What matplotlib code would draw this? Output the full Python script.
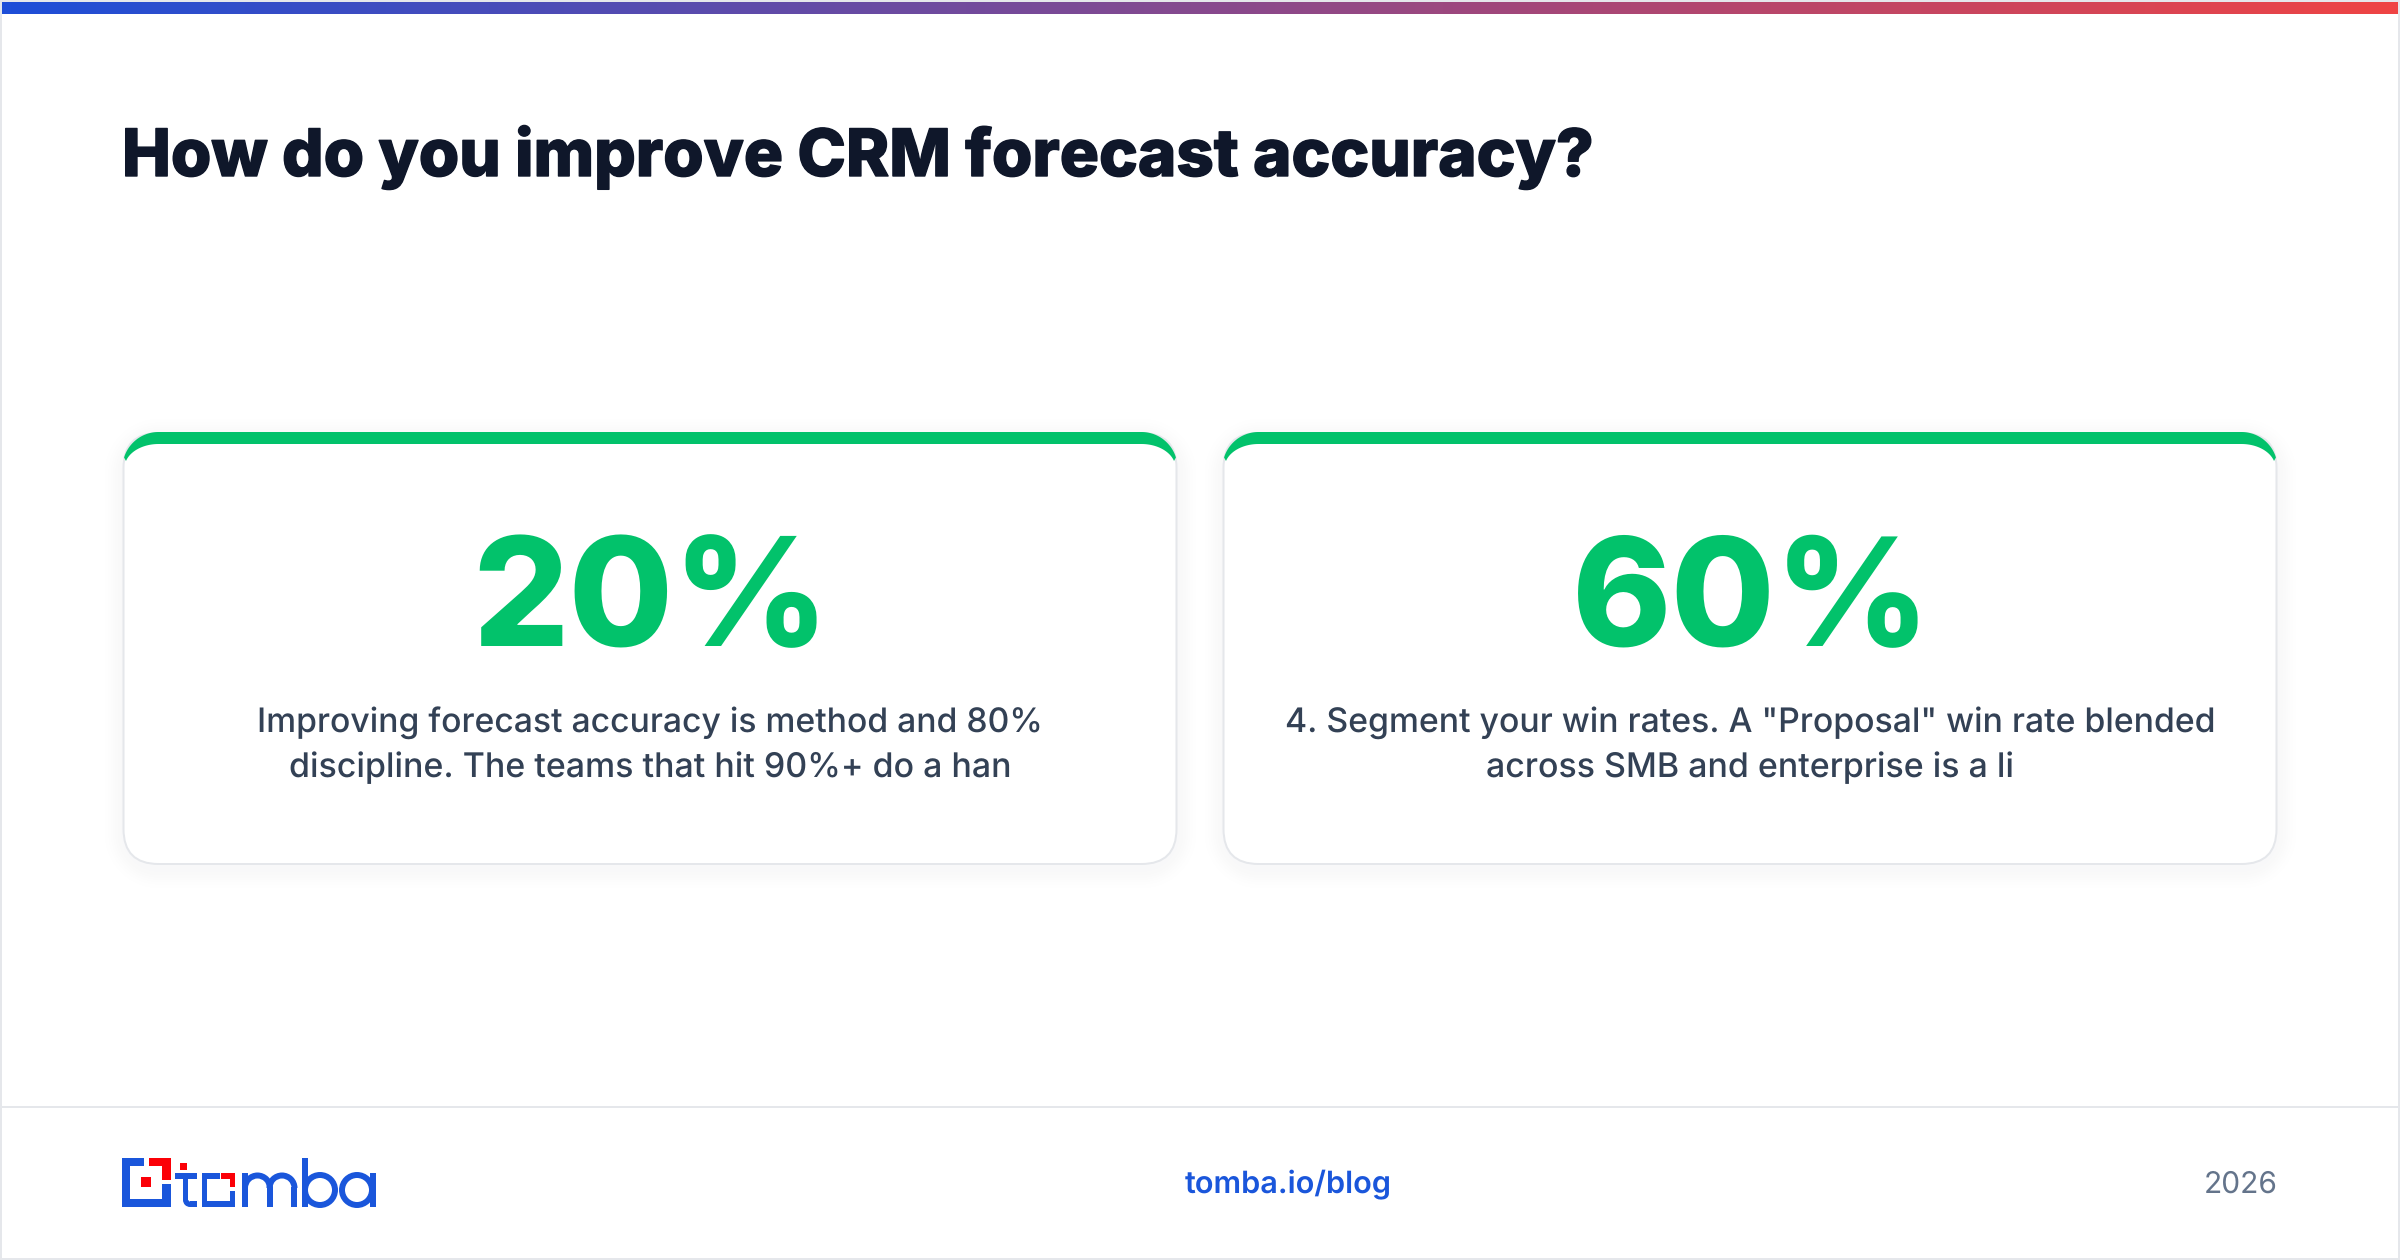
import numpy as np
import matplotlib
matplotlib.use("Agg")
import matplotlib.pyplot as plt
import matplotlib.patheffects as pe
from matplotlib.patches import FancyBboxPatch, Polygon, Rectangle, Circle, Wedge
from matplotlib.colors import LinearSegmentedColormap, to_rgb

TITLE = "How do you improve CRM forecast accuracy?"
STAT_VALUES = [20, 60]
STAT_TEXT = [
    ["Improving forecast accuracy is method and 80%", "discipline. The teams that hit 90%+ do a han"],
    ['4. Segment your win rates. A "Proposal" win rate blended', "across SMB and enterprise is a li"],
]
FOOT_URL = "tomba.io/blog"
FOOT_YEAR = "2026"

W, H = 2400, 1260
GREEN, BLUE, RED = "#02c26b", "#1a56db", "#fb0007"
plt.rcParams["font.family"] = ["Inter", "DejaVu Sans"]
plt.rcParams["text.hinting"] = "none"
plt.rcParams["text.hinting_factor"] = 1

fig = plt.figure(figsize=(W / 100, H / 100), dpi=100, facecolor="white")
ax = fig.add_axes([0, 0, 1, 1])
rend = fig.canvas.get_renderer()


def fitted(x, y, s, target, **kw):
    """Text whose width is scaled to a measured pixel width."""
    t = ax.text(x, y, s, fontsize=40, va="baseline", **kw)
    w = t.get_window_extent(rend).width
    t.set_fontsize(40 * target / w)
    return t


# frame, top gradient, footer rule
ax.add_patch(Rectangle((1, 1), W - 2, H - 2, fc="white", ec="#e5e7eb", lw=1.44))
cmap = LinearSegmentedColormap.from_list("bar", ["#1d4ed8", "#ef4444"])
ax.imshow(np.linspace(0, 1, 512)[None, :], cmap=cmap, extent=(2, W - 2, 14, 2),
          aspect="auto", zorder=2)
ax.plot([2, W - 2], [1106.5, 1106.5], color="#e5e7eb", lw=1.44, solid_capstyle="butt")


def rbox(x0, y0, x1, y1, r, **kw):
    return FancyBboxPatch((x0 + r, y0 + r), x1 - x0 - 2 * r, y1 - y0 - 2 * r,
                          boxstyle=f"round,pad={r},rounding_size={r}", **kw)


def crescent(x0, x1, y0):
    R, rx, ry, bw, sw = 36, 34, 24, 12, 2
    t = np.radians(np.linspace(163, 90, 30))
    ox, oy = x0 + R + R * np.cos(t), y0 + R - R * np.sin(t)
    ix, iy = x0 + sw + rx + rx * np.cos(t), y0 + bw + ry - ry * np.sin(t)
    outer = np.c_[ox, oy]
    inner = np.c_[ix, iy]
    mirror = lambda p: np.c_[x0 + x1 - p[:, 0], p[:, 1]]
    return Polygon(np.r_[outer, mirror(outer)[::-1], mirror(inner), inner[::-1]],
                   fc=GREEN, ec="none", zorder=5)


def shadow(x0, y0, x1, y1, r):
    pad = 40
    xs = np.arange(x0 - pad, x1 + pad)
    ys = np.arange(y0 - pad, y1 + pad)
    X, Y = np.meshgrid(xs + 0.5, ys + 0.5)
    qx = np.abs(X - (x0 + x1) / 2) - ((x1 - x0) / 2 - r)
    qy = np.abs(Y - (y0 + y1) / 2) - ((y1 - y0) / 2 - r)
    d = np.hypot(np.maximum(qx, 0), np.maximum(qy, 0)) - r
    a = 0.028 * np.exp(-(np.maximum(d, 0) / 13) ** 2)
    img = np.zeros(d.shape + (4,))
    img[..., :3] = to_rgb("#0f172a")
    img[..., 3] = a
    ax.imshow(img, extent=(xs[0], xs[-1] + 1, ys[-1] + 1, ys[0]), aspect="auto", zorder=3,
              interpolation="nearest")


cards = [(122.5, 1177.5), (1222.5, 2277.5)]
top, bottom = 432, 865
NUM_W = [357, 359]
for (x0, x1), val, lines, nw in zip(cards, STAT_VALUES, STAT_TEXT, NUM_W):
    shadow(x0, top + 5, x1, bottom + 5, 36)
    ax.add_patch(rbox(x0 + 1, top + 1, x1 - 1, bottom - 1, 35, fc="white", ec="#e5e7eb", lw=1.44, zorder=4))
    ax.add_patch(crescent(x0, x1, top))
    cx = (x0 + x1) / 2
    fitted(cx + 1, 646, f"{val}%", nw, fontweight=800, color=GREEN, ha="center", zorder=6)
    widths = [786, 723] if val == 20 else [931, 528]
    for i, (s, w) in enumerate(zip(lines, widths)):
        fitted(cx, 732 + 45.5 * i, s, w, color="#334155", ha="center", zorder=6, fontweight=500)

title = fitted(122, 176, TITLE, 1472, fontweight=800, color="#0f172a", ha="left")
title.set_path_effects([pe.withStroke(linewidth=1.0, foreground="#0f172a")])
fitted(1288, 1193, FOOT_URL, 207, fontweight=600, color=BLUE, ha="center")
fitted(2278, 1193, FOOT_YEAR, 74, fontweight=400, color="#64748b", ha="right")


# logo
def box(x0, y0, x1, y1, c):
    ax.add_patch(Rectangle((x0, y0), x1 - x0, y1 - y0, fc=c, ec="none", zorder=6))


for b in [(122, 1158, 130, 1207), (122, 1158, 144, 1166), (122, 1199, 171, 1207), (162, 1184, 171, 1207),
          (183, 1173, 188, 1200), (175, 1173, 197, 1179), (190, 1201, 197, 1207),
          (202, 1173, 207, 1207), (202, 1173, 220, 1179), (202, 1201, 235, 1207), (230, 1191, 235, 1207)]:
    box(*b, BLUE)
for b in [(149, 1158, 171, 1166), (162, 1158, 171, 1180), (141, 1177, 151, 1187), (180, 1163, 187, 1170),
          (221, 1173, 235, 1179), (230, 1173, 235, 1187)]:
    box(*b, RED)
ax.add_patch(Wedge((190, 1200), 7, 90, 180, width=5.5, fc=BLUE, ec="none", zorder=6))
# m
for x in (242, 267, 291):
    box(x, 1187, x + 6, 1207, BLUE)
box(242, 1173, 248, 1190, BLUE)
for x in (257.5, 282):
    ax.add_patch(Wedge((x, 1188), 15.5, 180, 360, width=6, fc=BLUE, ec="none", zorder=6))
# b
box(302, 1158, 308, 1207, BLUE)
ax.add_patch(Circle((320, 1190), 15, fc="none", ec=BLUE, lw=4.3, zorder=6))
# a
ax.add_patch(Circle((357, 1190), 15, fc="none", ec=BLUE, lw=4.3, zorder=6))
box(370, 1173, 376, 1207, BLUE)

ax.set_xlim(0, W)
ax.set_ylim(H, 0)
ax.axis("off")
fig.savefig("out.png", dpi=100, facecolor="white")
